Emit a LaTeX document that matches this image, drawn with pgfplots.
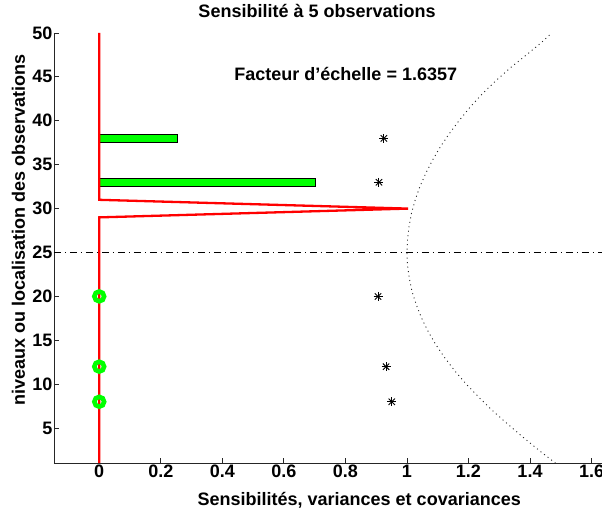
\documentclass[border=0pt]{standalone}
\usepackage{pgfplots}
\pgfplotsset{compat=1.18}
\usepackage{fontspec}
\setmainfont{Liberation Sans}
\definecolor{mgreen}{rgb}{0,1,0}
\definecolor{mred}{rgb}{1,0,0}
\begin{document}
\begin{tikzpicture}
\begin{axis}[
  x=307.7pt, y=8.78pt,
  xmin=-0.147, xmax=1.634, ymin=1, ymax=50,
  axis x line*=bottom, axis y line*=left,
  axis line style={-, line width=0.9pt, black!85},
  tick align=inside, major tick length=5pt,
  tick style={black!85, line width=0.8pt},
  xtick={0,0.2,0.4,0.6,0.8,1,1.2,1.4,1.6},
  ytick={5,10,15,20,25,30,35,40,45,50},
  /pgf/number format/assume math mode=true,
  tick label style={font=\fontsize{18}{20}\selectfont\bfseries},
  xticklabel style={inner sep=2pt},
  yticklabel style={inner sep=1.5pt},
  title={Sensibilité à 5 observations},
  title style={at={(axis description cs:0.480,1.022)}, anchor=base, font=\fontsize{18}{20}\selectfont\bfseries},
  xlabel={Sensibilités, variances et covariances},
  xlabel style={at={(axis description cs:0.557,-0.0977)}, anchor=base, font=\fontsize{18}{20}\selectfont\bfseries},
  ylabel={niveaux ou localisation des observations},
  ylabel style={at={(axis description cs:-0.053,0.542)}, anchor=base, rotate=0, font=\fontsize{18}{20}\selectfont\bfseries},
]
% dash-dot horizontal line
\addplot[black, line width=0.7pt, dash pattern=on 7pt off 4pt on 1pt off 4pt] coordinates {(-0.147,25) (1.634,25)};
% dotted curve
\addplot[black!85, line width=0.9pt, dash pattern=on 1pt off 3.5pt] coordinates {
(1.483,1.0) (1.428,2.5) (1.376,4) (1.326,5.5) (1.278,7) (1.234,8.5) (1.193,10)
(1.156,11.5) (1.123,13) (1.094,14.5) (1.069,16) (1.048,17.5) (1.031,19) (1.017,20.5)
(1.008,22) (1.002,23.5) (1.0,25) (1.002,26.5) (1.007,28) (1.015,29.5) (1.027,31)
(1.042,32.5) (1.061,34) (1.083,35.5) (1.108,37) (1.137,38.5) (1.169,40) (1.204,41.5)
(1.243,43) (1.287,44.5) (1.335,46) (1.388,47.5) (1.440,49) (1.470,50)};
% green bars
\addplot[xbar, bar width=7.4pt, fill=mgreen, draw=black, line width=0.7pt] coordinates {(0.253,38) (0.701,33)};
% red line
\addplot[mred, line width=2.3pt] coordinates {(0,1) (0,29) (1.004,30) (0,31) (0,50)};
% green circles
\addplot[only marks, mark=o, mark size=4.9pt, mgreen, line width=4.6pt] coordinates {(0,20) (0,12) (0,8)};
% asterisks
\addplot[only marks, mark=+, mark size=4.5pt, black, line width=0.9pt] coordinates {(0.925,38) (0.909,33) (0.906,20) (0.932,12) (0.951,8)};
\addplot[only marks, mark=x, mark size=4.5pt, black, line width=0.9pt] coordinates {(0.925,38) (0.909,33) (0.906,20) (0.932,12) (0.951,8)};
\node[anchor=west, font=\fontsize{18}{20}\selectfont\bfseries] at (axis cs:0.428,45.3) {Facteur d’échelle = 1.6357};
\coordinate (sw) at (rel axis cs:0,0);
\coordinate (ne) at (rel axis cs:1,1);
\end{axis}
\pgfresetboundingbox
\path ([xshift=-54pt,yshift=-49pt]sw) rectangle ([yshift=33pt]ne);
\end{tikzpicture}
\end{document}
